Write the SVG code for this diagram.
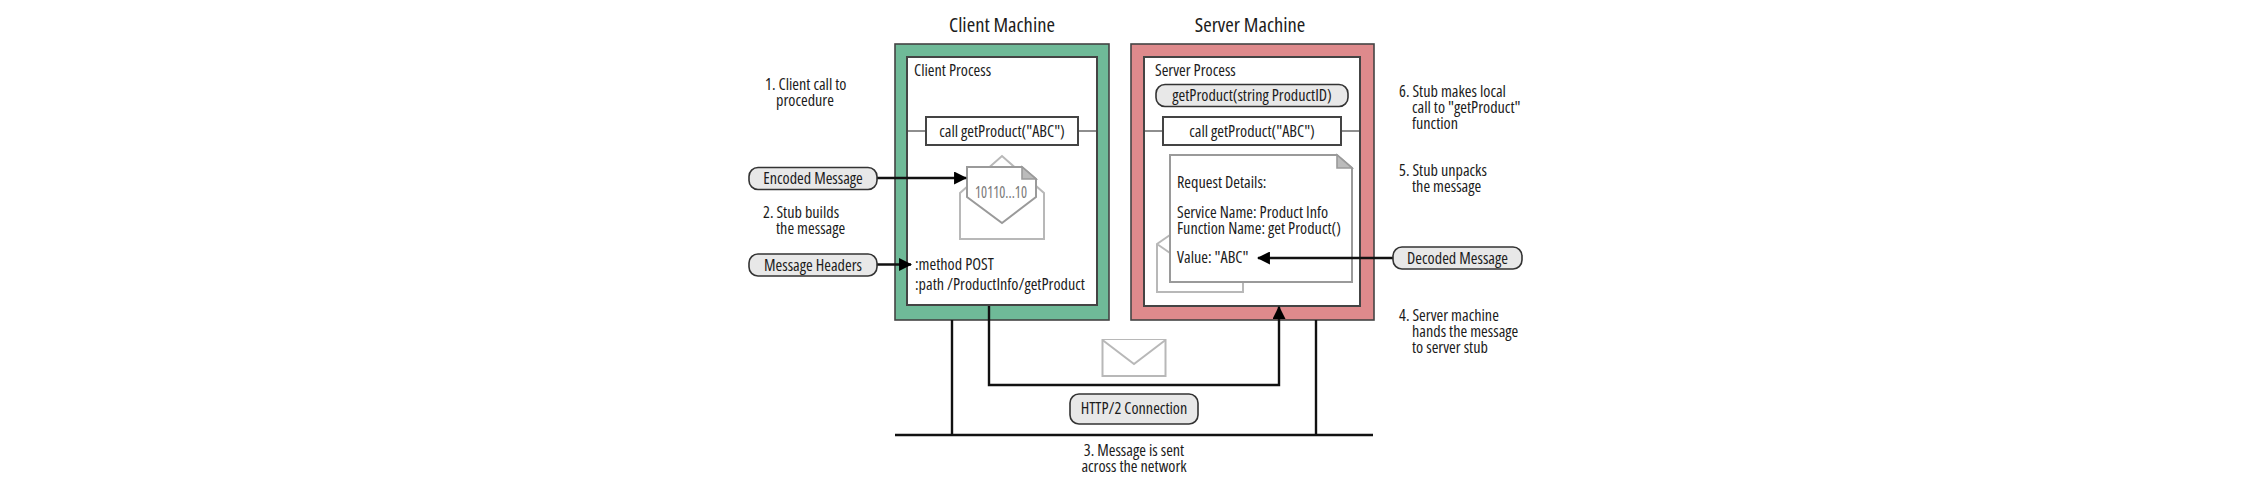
<svg xmlns="http://www.w3.org/2000/svg" width="2268" height="483" viewBox="0 0 2268 483">
<style>
text{font-family:"Open Sans","Noto Sans","Liberation Sans",sans-serif;font-size:16.2px;fill:#1c1c1c;font-stretch:condensed}
.t{font-size:20.6px}
.lb{text-anchor:middle}
.box{fill:#fff;stroke:#444;stroke-width:2}
.pill{fill:#e8e8e8;stroke:#333;stroke-width:1.6}
.g{fill:#fff;stroke:#b8b8b8;stroke-width:2}
.d{fill:#fff;stroke:#9a9a9a;stroke-width:2}
.f{fill:#bbb;stroke:#9a9a9a;stroke-width:1.6}
.line{fill:none;stroke:#111;stroke-width:2.4}
.thin{fill:none;stroke:#444;stroke-width:1.2}
</style>
<defs>
<marker id="ah" viewBox="0 0 12 12" refX="11" refY="6" markerWidth="13" markerHeight="13" markerUnits="userSpaceOnUse" orient="auto"><path d="M0 0L12 6L0 12Z" fill="#000"/></marker>
</defs>
<g id="client-machine">
<rect x="895" y="44" width="214" height="276" fill="#6fba98" stroke="#444" stroke-width="1.6"/>
<rect class="box" x="907" y="57" width="190" height="248"/>
<text class="t lb" x="1002" y="32">Client Machine</text>
<text x="914" y="76">Client Process</text>
<line class="thin" x1="907" y1="131" x2="926" y2="131"/><line class="thin" x1="1078" y1="131" x2="1097" y2="131"/>
<rect class="box" x="926" y="117" width="152" height="28" stroke-width="1.6"/>
<text class="lb" x="1002" y="137">call getProduct("ABC")</text>
<path class="g" d="M960 193V239H1044V193L1002 156Z"/>
<path class="d" d="M967 167H1022L1036 179V197L1002 223L967 197Z"/>
<path class="f" d="M1022 167L1036 179H1022Z"/>
<text class="lb" x="1001" y="198" textLength="52" lengthAdjust="spacingAndGlyphs" style="fill:#7a7a7a;font-size:17px">10110...10</text>
<text x="915" y="270">:method POST<tspan x="915" dy="20">:path /ProductInfo/getProduct</tspan></text>
</g>
<g id="server-machine">
<rect x="1131" y="44" width="243" height="276" fill="#de8a8c" stroke="#444" stroke-width="1.6"/>
<rect class="box" x="1144" y="57" width="216" height="249"/>
<text class="t lb" x="1250" y="32">Server Machine</text>
<text x="1155" y="76">Server Process</text>
<rect class="pill" x="1156" y="84.500" width="192" height="22" rx="9"/>
<text class="lb" x="1252" y="101">getProduct(string ProductID)</text>
<line class="thin" x1="1144" y1="131" x2="1163" y2="131"/><line class="thin" x1="1341" y1="131" x2="1360" y2="131"/>
<rect class="box" x="1163" y="117" width="178" height="28" stroke-width="1.6"/>
<text class="lb" x="1252" y="137">call getProduct("ABC")</text>
<path class="g" d="M1170 235L1157 244V292H1243V282M1157 244L1170 253"/>
<path class="d" d="M1170 155H1337L1352 168V282H1170Z"/>
<path class="f" d="M1337 155L1352 168H1337Z"/>
<text x="1177" y="188">Request Details:</text>
<text x="1177" y="218">Service Name: Product Info<tspan x="1177" dy="16">Function Name: get Product()</tspan></text>
<text x="1177" y="263">Value: "ABC"</text>
</g>
<g id="connectors">
<line class="line" x1="877" y1="178" x2="966" y2="178" marker-end="url(#ah)"/>
<line class="line" x1="877" y1="264.500" x2="911" y2="264.500" marker-end="url(#ah)"/>
<line class="line" x1="1393" y1="258" x2="1258" y2="258" marker-end="url(#ah)"/>
<path class="line" d="M989 306V385H1279V307" marker-end="url(#ah)"/>
<line class="line" x1="952" y1="320" x2="952" y2="435"/>
<line class="line" x1="1316" y1="320" x2="1316" y2="435"/>
<line class="line" x1="895" y1="435" x2="1373" y2="435"/>
</g>
<g id="envelope">
<rect class="g" x="1102.500" y="340" width="63" height="36"/>
<path class="g" d="M1102.500 340L1134 364L1165.500 340" fill="none"/>
</g>
<g id="encoded-message"><rect class="pill" x="749" y="167.500" width="128" height="22" rx="9"/><text class="lb" x="813" y="184">Encoded Message</text></g>
<g id="message-headers"><rect class="pill" x="749" y="254" width="128" height="22" rx="9"/><text class="lb" x="813" y="271">Message Headers</text></g>
<g id="decoded-message"><rect class="pill" x="1393" y="247" width="129" height="22" rx="9"/><text class="lb" x="1457.500" y="264">Decoded Message</text></g>
<g id="http-connection"><rect class="pill" x="1070" y="394" width="128" height="30" rx="9"/><text class="lb" x="1134" y="414">HTTP/2 Connection</text></g>
<g id="notes">
<text x="765" y="90">1. Client call to<tspan x="776" dy="16">procedure</tspan></text>
<text x="763" y="218">2. Stub builds<tspan x="776" dy="16">the message</tspan></text>
<text x="1399" y="97">6. Stub makes local<tspan x="1412" dy="16">call to "getProduct"</tspan><tspan x="1412" dy="16">function</tspan></text>
<text x="1399" y="176">5. Stub unpacks<tspan x="1412" dy="16">the message</tspan></text>
<text x="1399" y="321">4. Server machine<tspan x="1412" dy="16">hands the message</tspan><tspan x="1412" dy="16">to server stub</tspan></text>
<text class="lb" x="1134" y="456">3. Message is sent<tspan x="1134" dy="16">across the network</tspan></text>
</g>
</svg>
